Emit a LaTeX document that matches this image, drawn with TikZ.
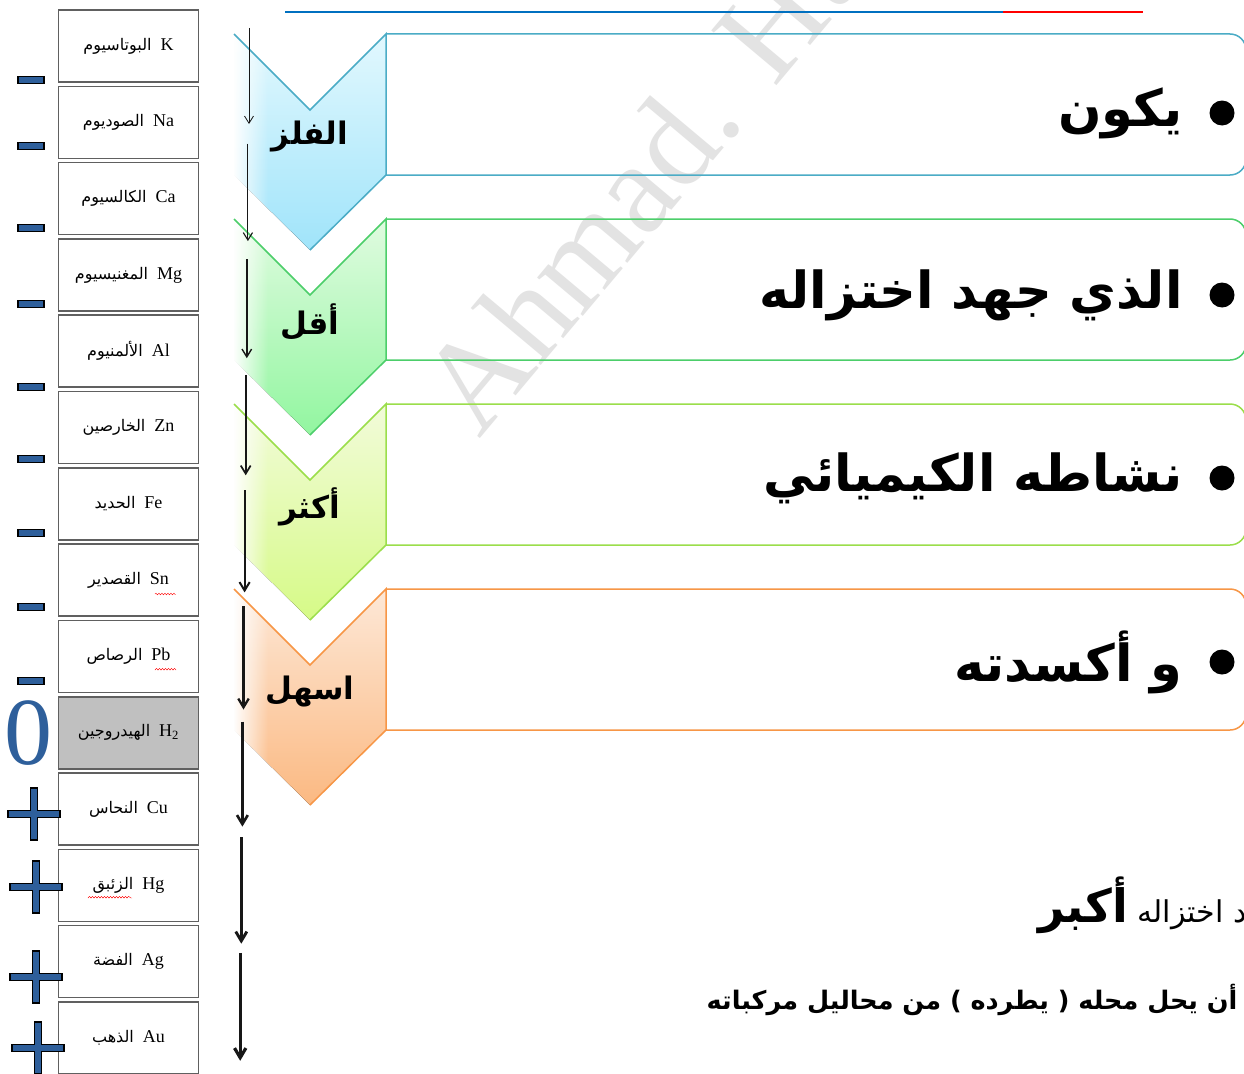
\documentclass[tikz,border=0pt]{standalone}
\usepackage{fontspec}
\setmainfont{Liberation Serif}
\newfontfamily\arfont[Script=Arabic]{DejaVu Sans}
\TeXXeTstate=1
\usetikzlibrary{arrows.meta,decorations.pathmorphing,fadings}

\definecolor{signblue}{RGB}{46,95,155}
\definecolor{hgray}{RGB}{192,192,192}
\definecolor{titleblue}{RGB}{0,112,192}
\definecolor{cblue}{RGB}{75,172,198}
\definecolor{cbluetop}{RGB}{226,248,254}
\definecolor{cbluebot}{RGB}{160,228,250}
\definecolor{cgreen}{RGB}{76,206,106}
\definecolor{cgreentop}{RGB}{224,251,224}
\definecolor{cgreenbot}{RGB}{146,246,160}
\definecolor{clime}{RGB}{155,222,75}
\definecolor{climetop}{RGB}{242,251,218}
\definecolor{climebot}{RGB}{214,250,135}
\definecolor{corange}{RGB}{247,150,70}
\definecolor{corangetop}{RGB}{253,232,215}
\definecolor{corangebot}{RGB}{251,185,130}

\tikzfading[name=fadeleft, left color=transparent!0, right color=transparent!100]

\newcommand{\plusmark}[1]{%
  \filldraw[signfill] #1 ++(-26,-3.5) -- ++(22.5,0) -- ++(0,-22.5) -- ++(7,0)
    -- ++(0,22.5) -- ++(22.5,0) -- ++(0,7) -- ++(-22.5,0) -- ++(0,22.5)
    -- ++(-7,0) -- ++(0,-22.5) -- ++(-22.5,0) -- cycle;}

\begin{document}
\begin{tikzpicture}[x=1pt, y=-1pt,
  cell/.style={rectangle, draw=gray!75!black, line width=1.6pt, minimum width=140pt,
    minimum height=72pt, inner sep=0pt, font=\fontsize{18}{20}\selectfont},
  signfill/.style={fill=signblue, draw=black, line width=1.1pt},
  minus/.style={signfill, rectangle, minimum width=26pt, minimum height=7pt, inner sep=0pt},
  stagelbl/.style={font=\arfont\bfseries\fontsize{31}{34}\selectfont},
  bigtxt/.style={anchor=east, font=\arfont\bfseries\fontsize{51}{56}\selectfont},
  dot/.style={circle, fill=black, minimum size=25pt, inner sep=0pt},
  flow/.style={line width=#1, -{Straight Barb[length=4pt+4*#1, width=5pt+5*#1]}}]
  \useasboundingbox (0,0) rectangle (1244,1073);
  \fill[white] (0,0) rectangle (1244,1073);

  % watermark
  \node[rotate=50, text=gray!22, font=\fontsize{130}{130}\selectfont] (wm) at (665,150) {Ahmad. Hub};

  % title underline (cut off)
  \draw[line width=2.5pt, titleblue] (285,12) -- (1003,12);
  \draw[line width=2.5pt, red] (1003,12) -- (1143,12);

  % activity series
  \foreach \sym/\ar/\bg [count=\i from 0] in {K/البوتاسيوم/white, Na/الصوديوم/white,
      Ca/الكالسيوم/white, Mg/المغنيسيوم/white, Al/الألمنيوم/white, Zn/الخارصين/white,
      Fe/الحديد/white, Sn/القصدير/white, Pb/الرصاص/white,
      H\textsubscript{2}/الهيدروجين/hgray, Cu/النحاس/white, Hg/الزئبق/white,
      Ag/الفضة/white, Au/الذهب/white}
    \node[cell, fill=\bg] (cell\i) at (128.5,46+76.3*\i)
      {{\arfont\fontsize{16}{18}\selectfont\beginR\ar\endR}\hspace{9pt}\sym};
  \draw[red, decorate, decoration={snake, amplitude=0.8pt, segment length=3pt}]
    (155,594) -- (175,594) (155,670) -- (175,670) (88,898) -- (132,898);

  % signs
  \foreach \y [count=\i] in {80,146,228,304,387,459,533,607,681}
    \node[minus] (m\i) at (31,\y) {};
  \node[text=signblue, font=\fontsize{96}{96}\selectfont] (zero) at (29,733) {0};
  \plusmark{(34,814)}
  \plusmark{(36,887)}
  \plusmark{(36,977)}
  \plusmark{(38,1048)}

  % chevrons and boxes
  \foreach \t/\col/\lab/\nm in {34/cblue/الفلز/metal, 219/cgreen/أقل/less,
      404/clime/أكثر/more, 589/corange/اسهل/easier} {
    \fill[top color=\col top, bottom color=\col bot] (234,\t) -- (310,\t+76) -- (386,\t)
      -- (386,\t+141) -- (310,\t+216) -- (234,\t+141) -- cycle;
    \fill[white, path fading=fadeleft] (233,\t) rectangle (268,\t+180);
    \draw[\col, line width=1.5pt] (234,\t) -- (310,\t+76) -- (386,\t) -- (386,\t+141) -- (310,\t+216);
    \draw[\col, line width=1.5pt, rounded corners=16pt] (386,\t) -- (1246,\t) -- (1246,\t+141) -- (386,\t+141);
    \node[stagelbl] (\nm) at (310,\t+103) {\beginR\lab\endR};
  }

  % arrows down the series
  \foreach \i in {0,...,8} {
    \coordinate (a\i) at (249-1.1*\i,28+115.6*\i);
    \coordinate (b\i) at (249-1.1*\i,124+115.6*\i+1.5*\i);
    \draw[flow=0.8pt+0.3pt*\i, black!70!gray!60!black] (a\i) -- (b\i);
  }

  \foreach \y/\txt/\nm in {113/يكون/t1, 295/الذي جهد اختزاله/t2,
      478/نشاطه الكيميائي/t3, 662/و أكسدته/t4} {
    \node[dot] (\nm dot) at (1222,\y) {};
    \node[bigtxt] (\nm) at (1186,\y) {\beginR\txt\endR};
  }

  % footnotes
  \node[anchor=east, font=\arfont\fontsize{30}{32}\selectfont] (more) at (1250,905)
    {\beginR د اختزاله {\bfseries\fontsize{46}{48}\selectfont أكبر}\endR};
  \node[anchor=east, font=\arfont\bfseries\fontsize{25.5}{28}\selectfont] (repl) at (1241,1000)
    {\beginR أن يحل محله ( يطرده ) من محاليل مركباته\endR};
\end{tikzpicture}
\end{document}
